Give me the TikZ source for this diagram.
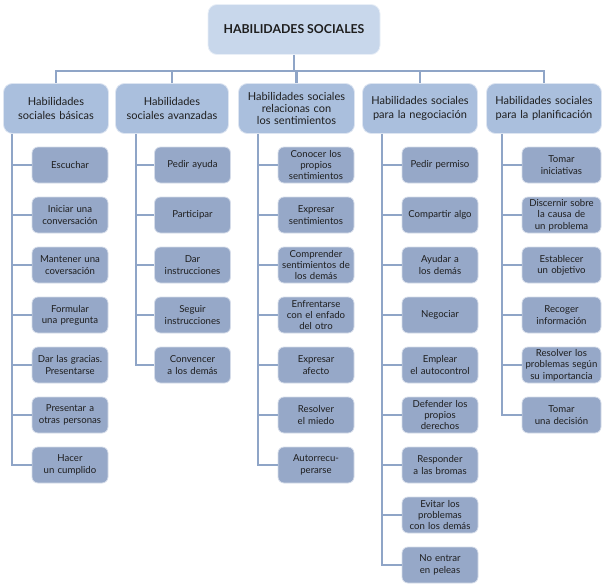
\documentclass[tikz,border=0pt]{standalone}
\usepackage{fontspec}
\setmainfont{Lato}
\definecolor{topc}{HTML}{C8D7EB}
\definecolor{catc}{HTML}{AABFDD}
\definecolor{leafc}{HTML}{96A8C8}
\definecolor{linec}{HTML}{8FA5C7}
\definecolor{txt}{HTML}{1E1E1E}
\begin{document}
\begin{tikzpicture}[x=1pt,y=-1pt,
  topbox/.style={fill=topc, draw=white!60!topc, line width=0.8pt, rounded corners=9pt,
    minimum width=172pt, minimum height=50pt, text=txt, font=\fontsize{12.3}{14}\selectfont\bfseries},
  catbox/.style={fill=catc, draw=white!60!catc, line width=0.8pt, rounded corners=9pt,
    minimum height=50pt, align=center, inner sep=1pt, text=txt, font=\fontsize{11}{13.8}\selectfont},
  catthree/.style={font=\fontsize{11}{12.2}\selectfont},
  leaf/.style={fill=leafc, draw=white!60!leafc, line width=0.8pt, rounded corners=6pt,
    minimum width=76pt, minimum height=36pt, text width=75pt, align=center, inner sep=0.5pt,
    text=txt, font=\fontsize{9.6}{11.3}\selectfont},
  conn/.style={draw=linec, line width=2.2pt}]
\useasboundingbox (0,0) rectangle (603,586);

% top and categories
\node[topbox] (top) at (294,29.5) {HABILIDADES SOCIALES};
\node[catbox, minimum width=104pt, text width=103pt] (c1) at (56,108.5) {Habilidades\\sociales básicas};
\node[catbox, minimum width=112pt, text width=111pt] (c2) at (172,108.5) {Habilidades\\sociales avanzadas};
\node[catbox, catthree, minimum width=115pt, text width=114pt] (c3) at (296.5,108.5) {Habilidades sociales\\relacionas con\\los sentimientos};
\node[catbox, minimum width=114pt, text width=113pt] (c4) at (420,108.5) {Habilidades sociales\\para la negociación};
\node[catbox, minimum width=114pt, text width=113pt] (c5) at (544,108.5) {Habilidades sociales\\para la planificación};

\draw[conn] (top.south) -- (top.south |- 0,71);
\draw[conn] (c1.north) -- (c1.north |- 0,71) -- (c5.north |- 0,71) -- (c5.north);
\foreach \c in {c2,c3,c4} \draw[conn] (\c.north) -- (\c.north |- 0,71);

% column 1
\foreach \t [count=\i] in {{Escuchar},{Iniciar una\\conversación},{Mantener una\\coversación},{Formular\\una pregunta},{Dar las gracias.\\Presentarse},{Presentar a\\otras personas},{Hacer\\un cumplido}} {
  \node[leaf] (a\i) at (70,115+50*\i) {\t};
  \draw[conn] (a\i.west) -- (a\i.west -| 12,0);
}
\draw[conn] (c1.south -| 12,0) |- (a7.west);

% column 2
\foreach \t [count=\i] in {{Pedir ayuda},{Participar},{Dar\\instrucciones},{Seguir\\instrucciones},{Convencer\\a los demás}} {
  \node[leaf] (b\i) at (192.5,115+50*\i) {\t};
  \draw[conn] (b\i.west) -- (b\i.west -| 136,0);
}
\draw[conn] (c2.south -| 136,0) |- (b5.west);

% column 3
\foreach \t [count=\i] in {{Conocer los\\propios\\sentimientos},{Expresar\\sentimientos},{Comprender\\sentimientos de\\los demás},{Enfrentarse\\con el enfado\\del otro},{Expresar\\afecto},{Resolver\\el miedo},{Autorrecu-\\perarse}} {
  \node[leaf] (d\i) at (316,115+50*\i) {\t};
  \draw[conn] (d\i.west) -- (d\i.west -| 258,0);
}
\draw[conn] (c3.south -| 258,0) |- (d7.west);

% column 4
\foreach \t [count=\i] in {{Pedir permiso},{Compartir algo},{Ayudar a\\los demás},{Negociar},{Emplear\\el autocontrol},{Defender los\\propios\\derechos},{Responder\\a las bromas},{Evitar los\\problemas\\con los demás},{No entrar\\en peleas}} {
  \node[leaf] (e\i) at (440,115+50*\i) {\t};
  \draw[conn] (e\i.west) -- (e\i.west -| 382,0);
}
\draw[conn] (c4.south -| 382,0) |- (e9.west);

% column 5
\foreach \t [count=\i] in {{Tomar\\iniciativas},{Discernir sobre\\la causa de\\un problema},{Establecer\\un objetivo},{Recoger\\información},{Resolver los\\problemas según\\su importancia},{Tomar\\una decisión}} {
  \node[leaf, minimum width=79pt, text width=78pt] (f\i) at (561.5,115+50*\i) {\t};
  \draw[conn] (f\i.west) -- (f\i.west -| 502,0);
}
\draw[conn] (c5.south -| 502,0) |- (f6.west);
\end{tikzpicture}
\end{document}
